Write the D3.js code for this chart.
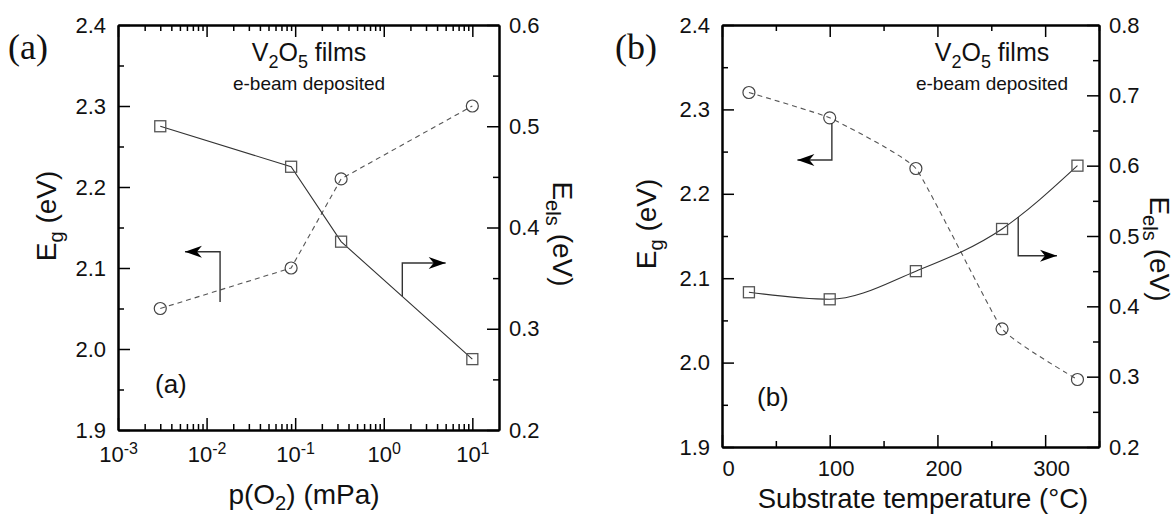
<!DOCTYPE html>
<html>
<head>
<meta charset="utf-8">
<script src="https://cdn.jsdelivr.net/npm/d3@7"></script>
<style>
  body { margin: 0; background: #fff; }
  svg text { font-family: "Liberation Sans", Arial, sans-serif; fill: #111; }
</style>
</head>
<body>
<svg id="chart" width="1176" height="518"></svg>
<script>
// ---- data ----
// panel (a): vs oxygen partial pressure
const pO2 = [0.003, 0.09, 0.33, 10];
const egA = [2.05, 2.10, 2.21, 2.30];
const eelsA = [0.50, 0.46, 0.386, 0.27];
// panel (b): vs substrate temperature
const tempB = [25, 100, 180, 260, 330];
const egB = [2.32, 2.29, 2.23, 2.04, 1.98];
const eelsB = [0.42, 0.41, 0.45, 0.51, 0.60];

// ticks
const egTicks = [1.9, 2.0, 2.1, 2.2, 2.3, 2.4];
const egMinor = [1.95, 2.05, 2.15, 2.25, 2.35];
const eelsTicksA = [0.2, 0.3, 0.4, 0.5, 0.6];
const eelsMinorA = [0.25, 0.35, 0.45, 0.55];
const eelsTicksB = [0.2, 0.3, 0.4, 0.5, 0.6, 0.7, 0.8];
const eelsMinorB = [0.25, 0.35, 0.45, 0.55, 0.65, 0.75];
const decades = [1e-3, 1e-2, 1e-1, 1, 10];
const tempTicks = [0, 100, 200, 300];
const tempMinor = [50, 150, 250];

// arrows that point to the axis a curve belongs to (data units)
const arrowA1 = [[0.0142, 2.058], [0.0142, 2.12], [0.0057, 2.12]];
const arrowA2 = [[1.62, 0.332], [1.62, 0.365], [5.0, 0.365]];
const arrowB1 = [[102, 2.284], [102, 2.24], [70, 2.24]];
const arrowB2 = [[275, 0.527], [275, 0.472], [311, 0.472]];

const svg = d3.select("#chart");

// log minor ticks 2..9 per decade
let logMinor = [];
decades.forEach(d => { for (let k = 2; k <= 9; k++) if (d * k < 20) logMinor.push(d * k); });

// ---- scales ----
const xA = d3.scaleLog().domain([1e-3, 20]).range([118, 499]);
const yA = d3.scaleLinear().domain([1.9, 2.4]).range([430, 25]);
const yA2 = d3.scaleLinear().domain([0.2, 0.6]).range([430, 25]);

const xB = d3.scaleLinear().domain([0, 350]).range([722, 1099]);
const yB = d3.scaleLinear().domain([1.9, 2.4]).range([447, 25]);
const yB2 = d3.scaleLinear().domain([0.2, 0.8]).range([447, 25]);

const TICK = 22;

// draws a box with inward ticks on all 4 sides
function frame(x, y, y2, xMajor, xMinor, yMinor, y2Ticks, y2Minor, xFmt, xPad, xDx) {
  const g = svg.append("g");
  const x0 = x.range()[0], x1 = x.range()[1];
  const yb = y.range()[0], yt = y.range()[1];

  function ax(make, tr, major, minor, fmt, pad) {
    const a = g.append("g").attr("transform", tr)
      .call(make().tickValues(major).tickSize(-12).tickSizeOuter(0).tickPadding(pad).tickFormat(fmt));
    g.append("g").attr("transform", tr)
      .call(make().tickValues(minor).tickSize(-6).tickSizeOuter(0).tickFormat(() => ""));
    return a;
  }

  const bottom = ax(() => d3.axisBottom(x), `translate(0,${yb})`, xMajor, xMinor, xFmt, xPad);
  ax(() => d3.axisTop(x), `translate(0,${yt})`, xMajor, xMinor, () => "", 0);
  ax(() => d3.axisLeft(y), `translate(${x0},0)`, egTicks, yMinor, d3.format(".1f"), 12);
  ax(() => d3.axisRight(y2), `translate(${x1},0)`, y2Ticks, y2Minor, d3.format(".1f"), 10);

  g.selectAll(".domain").attr("stroke", "#000").attr("stroke-width", 2);
  g.selectAll(".tick line").attr("stroke", "#000").attr("stroke-width", 1.5);
  g.selectAll("g").attr("font-size", TICK).attr("font-family", null);
  g.selectAll(".tick text").attr("fill", "#111");
  bottom.selectAll(".tick text").attr("dx", xDx);
  return bottom;
}

// ---- panel (a) frame ----
const botA = frame(xA, yA, yA2, decades, logMinor, egMinor, eelsTicksA, eelsMinorA, () => "", 16, 0);
botA.selectAll(".tick text").each(function (d) {
  const t = d3.select(this);
  t.text(null);
  t.append("tspan").text("10");
  t.append("tspan").attr("dy", -8).attr("font-size", 16).text(Math.round(Math.log10(d)));
});

// ---- panel (b) frame ----
frame(xB, yB, yB2, tempTicks, tempMinor.concat([350]), egMinor, eelsTicksB, eelsMinorB, d3.format("d"), 13, 6);

// ---- series ----
function series(x, y, xs, ys, dashed, curve, shape) {
  const pts = xs.map((v, i) => [x(v), y(ys[i])]);
  svg.append("path")
    .attr("d", d3.line().curve(curve)(pts))
    .attr("fill", "none")
    .attr("stroke", dashed ? "#555" : "#333")
    .attr("stroke-width", 1.1)
    .attr("stroke-dasharray", dashed ? "5,4" : null);
  if (shape === "circle") {
    svg.append("g").selectAll("circle").data(pts).join("circle")
      .attr("cx", d => d[0]).attr("cy", d => d[1]).attr("r", 6)
      .attr("fill", "none").attr("stroke", "#444").attr("stroke-width", 1.2);
  } else {
    svg.append("g").selectAll("rect").data(pts).join("rect")
      .attr("x", d => d[0] - 5.5).attr("y", d => d[1] - 5.5)
      .attr("width", 11).attr("height", 11)
      .attr("fill", "none").attr("stroke", "#555").attr("stroke-width", 1.3);
  }
}

series(xA, yA, pO2, egA, true, d3.curveLinear, "circle");
series(xA, yA2, pO2, eelsA, false, d3.curveLinear, "square");
series(xB, yB, tempB, egB, true, d3.curveCardinal.tension(0.65), "circle");
series(xB, yB2, tempB, eelsB, false, d3.curveMonotoneX, "square");

// ---- pointer arrows ----
function pointer(x, y, pts) {
  const p = pts.map(d => [x(d[0]), y(d[1])]);
  svg.append("path").attr("d", d3.line()(p))
    .attr("fill", "none").attr("stroke", "#333").attr("stroke-width", 1.4);
  const [tx, ty] = p[p.length - 1];
  const s = Math.sign(tx - p[p.length - 2][0]);
  svg.append("path")
    .attr("d", `M${tx},${ty} L${tx - s * 17},${ty - 6} L${tx - s * 12},${ty} L${tx - s * 17},${ty + 6} Z`)
    .attr("fill", "#000");
}
pointer(xA, yA, arrowA1);
pointer(xA, yA2, arrowA2);
pointer(xB, yB, arrowB1);
pointer(xB, yB2, arrowB2);

// ---- text helpers ----
function rich(g, parts, size, subShift) {
  let off = 0;
  const sh = subShift || 0.3;
  parts.forEach(([t, mode]) => {
    const ts = g.append("tspan").text(t);
    let target = 0, fs = size;
    if (mode === "sub") { target = size * sh; fs = size * 0.72; }
    if (mode === "sup") { target = -size * 0.4; fs = size * 0.72; }
    ts.attr("dy", target - off).attr("font-size", fs);
    off = target;
  });
  return g;
}

// ---- labels ----
// compound + deposition note
[[309, 61, 90], [992, 61, 90]].forEach(([cx, y1, y2]) => {
  rich(svg.append("text").attr("x", cx).attr("y", y1).attr("text-anchor", "middle"),
    [["V", null], ["2", "sub"], ["O", null], ["5", "sub"], [" films", null]], 25, 0.26);
  svg.append("text").attr("x", cx).attr("y", y2).attr("text-anchor", "middle")
    .attr("font-size", 19).text("e-beam deposited");
});

// axis titles
const TITLE = 28;
rich(svg.append("text").attr("transform", "translate(56,216) rotate(-90)").attr("text-anchor", "middle"),
  [["E", null], ["g", "sub"], [" (eV)", null]], TITLE, 0.25);
rich(svg.append("text").attr("transform", "translate(656,224) rotate(-90)").attr("text-anchor", "middle"),
  [["E", null], ["g", "sub"], [" (eV)", null]], TITLE, 0.25);
rich(svg.append("text").attr("transform", "translate(553,234) rotate(90)").attr("text-anchor", "middle"),
  [["E", null], ["els", "sub"], [" (eV)", null]], TITLE, 0.25);
rich(svg.append("text").attr("transform", "translate(1150,249) rotate(90)").attr("text-anchor", "middle"),
  [["E", null], ["els", "sub"], [" (eV)", null]], TITLE, 0.25);

rich(svg.append("text").attr("x", 304).attr("y", 504).attr("text-anchor", "middle"),
  [["p(O", null], ["2", "sub"], [") (mPa)", null]], TITLE, 0.22);
svg.append("text").attr("x", 923).attr("y", 508).attr("text-anchor", "middle")
  .attr("font-size", 27.5).text("Substrate temperature (\u00B0C)");

// inner panel tags
svg.append("text").attr("x", 155).attr("y", 393).attr("font-size", 26).text("(a)");
svg.append("text").attr("x", 757).attr("y", 406).attr("font-size", 26).text("(b)");

// outer panel tags (serif)
svg.append("text").attr("x", 8).attr("y", 59).attr("font-size", 36)
  .style("font-family", "'Liberation Serif', 'Times New Roman', serif").text("(a)");
svg.append("text").attr("x", 615).attr("y", 59).attr("font-size", 36)
  .style("font-family", "'Liberation Serif', 'Times New Roman', serif").text("(b)");
</script>
</body>
</html>
